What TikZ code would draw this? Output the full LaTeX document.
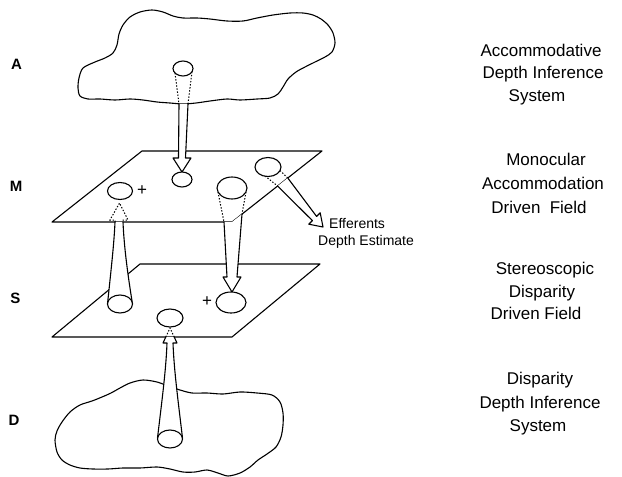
\documentclass[tikz,border=0pt]{standalone}
\usepackage{fontspec}
\setmainfont{Liberation Sans}
\usetikzlibrary{shapes.geometric}
\begin{document}
\begin{tikzpicture}[x=1pt,y=-1pt,
  outline/.style={line width=1.1pt,line join=round,line cap=round},
  hidden/.style={line width=1pt,dash pattern=on 1.4pt off 1.7pt},
  spot/.style={shape=ellipse,draw,fill=white,line width=1.1pt,inner sep=0pt},
  caption/.style={font=\fontsize{17}{20}\selectfont,anchor=base,inner sep=0pt},
  level/.style={font=\bfseries\fontsize{15}{18}\selectfont,inner sep=0pt},
  note/.style={font=\fontsize{14}{16}\selectfont,anchor=base west,inner sep=0pt},
  sign/.style={font=\fontsize{17}{18}\selectfont,inner sep=0pt}]
\useasboundingbox (0,0) rectangle (622,477);

% ---- accommodative inference system (upper cloud)
\draw[outline] plot[smooth cycle,tension=0.5] coordinates {
 (78,88) (79,78) (83,68) (95,62) (105,58) (113,53) (117,45) (119,34) (123,25)
 (130,17) (140,12) (152,10) (163,12) (173,16) (183,18) (197,18) (210,19)
 (227,21) (243,21) (257,18) (273,15) (290,13) (303,13) (313,15) (321,19)
 (328,25) (333,33) (335,43) (332,52) (325,57) (315,62) (305,67) (296,72)
 (288,79) (283,87) (278,94) (270,98) (257,99) (240,100) (227,99) (210,101)
 (196,103) (183,104) (170,103) (157,102) (143,100) (130,99) (115,100)
 (100,99) (88,99) (80,96)};

% ---- disparity inference system (lower cloud)
\draw[outline] plot[smooth cycle,tension=0.5] coordinates {
 (55,440) (57,431) (62,422) (70,412) (80,405) (92,401) (102,397) (111,393)
 (120,388) (130,383) (143,380) (157,382) (168,386) (180,390) (192,393)
 (207,393) (223,394) (240,392) (257,393) (272,395) (280,402) (283,413)
 (283,425) (281,437) (276,447) (267,454) (258,460) (250,467) (240,473)
 (228,476) (218,473) (207,470) (195,472) (183,472) (170,469) (157,467)
 (140,468) (123,468) (108,469) (93,469) (80,468) (70,465) (62,460) (57,452)};

% ---- the two fields
\draw[outline] (142,151) -- (322,151) -- (232,222) -- (52,222) -- cycle;
\draw[outline] (140,264) -- (320,264) -- (232,337) -- (52,337) -- cycle;

% ---- A -> M
\draw[hidden] (175,73) -- (179,104);
\draw[hidden] (192,71.8) -- (188,104);
\fill[white] (179,104) -- (178.5,158) -- (173,158) -- (182,172) -- (191,158) -- (185.5,158) -- (188,104) -- cycle;
\draw[outline] (179,104) -- (178.5,158) -- (173,158) -- (182,172) -- (191,158) -- (185.5,158) -- (188,104);

% ---- M -> S
\draw[hidden] (218,192) -- (224,222);
\draw[hidden] (246,192) -- (242,214.1);
\fill[white] (224,222) -- (227,277) -- (223,277) -- (232,292) -- (241,277) -- (237,277) -- (242,214.1) -- (232,222) -- cycle;
\draw[outline] (224,222) -- (227,277) -- (223,277) -- (232,292) -- (241,277) -- (237,277) -- (242,214.1);

% ---- efferent output
\draw[hidden] (265,176) -- (277.6,186);
\draw[hidden] (280,170.5) -- (287.8,178);
\fill[white] (277.6,186) -- (312.4,220.6) -- (308.8,224.2) -- (323,227) -- (320.2,212.8) -- (316.6,216.4) -- (287.8,178) -- cycle;
\draw[outline] (277.6,186) -- (312.4,220.6) -- (308.8,224.2) -- (323,227) -- (320.2,212.8) -- (316.6,216.4) -- (287.8,178);

% ---- S -> M
\fill[white] (107.5,304) .. controls (111,270) and (114,245) .. (115,222)
  -- (123,222) .. controls (124,245) and (127,270) .. (132.5,304) -- cycle;
\draw[outline] (107.5,304) .. controls (111,270) and (114,245) .. (115,222);
\draw[outline] (132.5,304) .. controls (127,270) and (124,245) .. (123,222);
\draw[hidden] (115,222) -- (115,220) -- (110,220) -- (119.5,203) -- (128,220) -- (123,220) -- (123,222);

% ---- D -> S
\fill[white] (157.5,438) .. controls (162,400) and (166,370) .. (167,343)
  -- (163,343) -- (165.8,337) -- (174.2,337) -- (177,343) -- (173,343)
  .. controls (174,370) and (178,400) .. (182.5,438) -- cycle;
\draw[outline] (157.5,438) .. controls (162,400) and (166,370) .. (167,343) -- (163,343) -- (165.8,337);
\draw[outline] (182.5,438) .. controls (178,400) and (174,370) .. (173,343) -- (177,343) -- (174.2,337);
\draw[hidden] (165.8,337) -- (170,328) -- (174.2,337);

% ---- units
\node[spot,minimum width=20pt,minimum height=15pt] (eA) at (183,68.5) {};
\node[spot,minimum width=20pt,minimum height=15pt] (eMtop) at (182,179.5) {};
\node[spot,minimum width=25pt,minimum height=17pt] (eMleft) at (120,191) {};
\node[spot,minimum width=30pt,minimum height=22pt] (eMmid) at (232,188) {};
\node[spot,minimum width=26pt,minimum height=19pt] (eMright) at (268,167) {};
\node[spot,minimum width=30pt,minimum height=21pt] (eSright) at (231,302.5) {};
\node[spot,minimum width=25pt,minimum height=18pt] (eSleft) at (120,304) {};
\node[spot,minimum width=26pt,minimum height=18pt] (eSmid) at (170,318) {};
\node[spot,minimum width=25pt,minimum height=18pt] (eD) at (170,439) {};

\node[sign] (pM) at (142,191) {+};
\node[sign] (pS) at (207,302) {+};

% ---- level letters
\node[level] (lA) at (16.5,64) {A};
\node[level] (lM) at (16,186) {M};
\node[level] (lS) at (15.5,298) {S};
\node[level] (lD) at (14,420) {D};

% ---- efferent label
\node[note] (ef1) at (329,228) {Efferents};
\node[note] (ef2) at (318,245) {Depth Estimate};

% ---- level descriptions
\node[caption] (a1) at (541,56) {Accommodative};
\node[caption] (a2) at (543,78) {Depth Inference};
\node[caption] (a3) at (537,101) {System};
\node[caption] (m1) at (546,165) {Monocular};
\node[caption] (m2) at (543,189) {Accommodation};
\node[caption] (m3) at (539,213) {Driven\hspace{0.55em}Field};
\node[caption] (s1) at (545,274) {Stereoscopic};
\node[caption] (s2) at (542,297) {Disparity};
\node[caption] (s3) at (536,319) {Driven Field};
\node[caption] (d1) at (540,384) {Disparity};
\node[caption] (d2) at (540,408) {Depth Inference};
\node[caption] (d3) at (538,431) {System};
\end{tikzpicture}
\end{document}
